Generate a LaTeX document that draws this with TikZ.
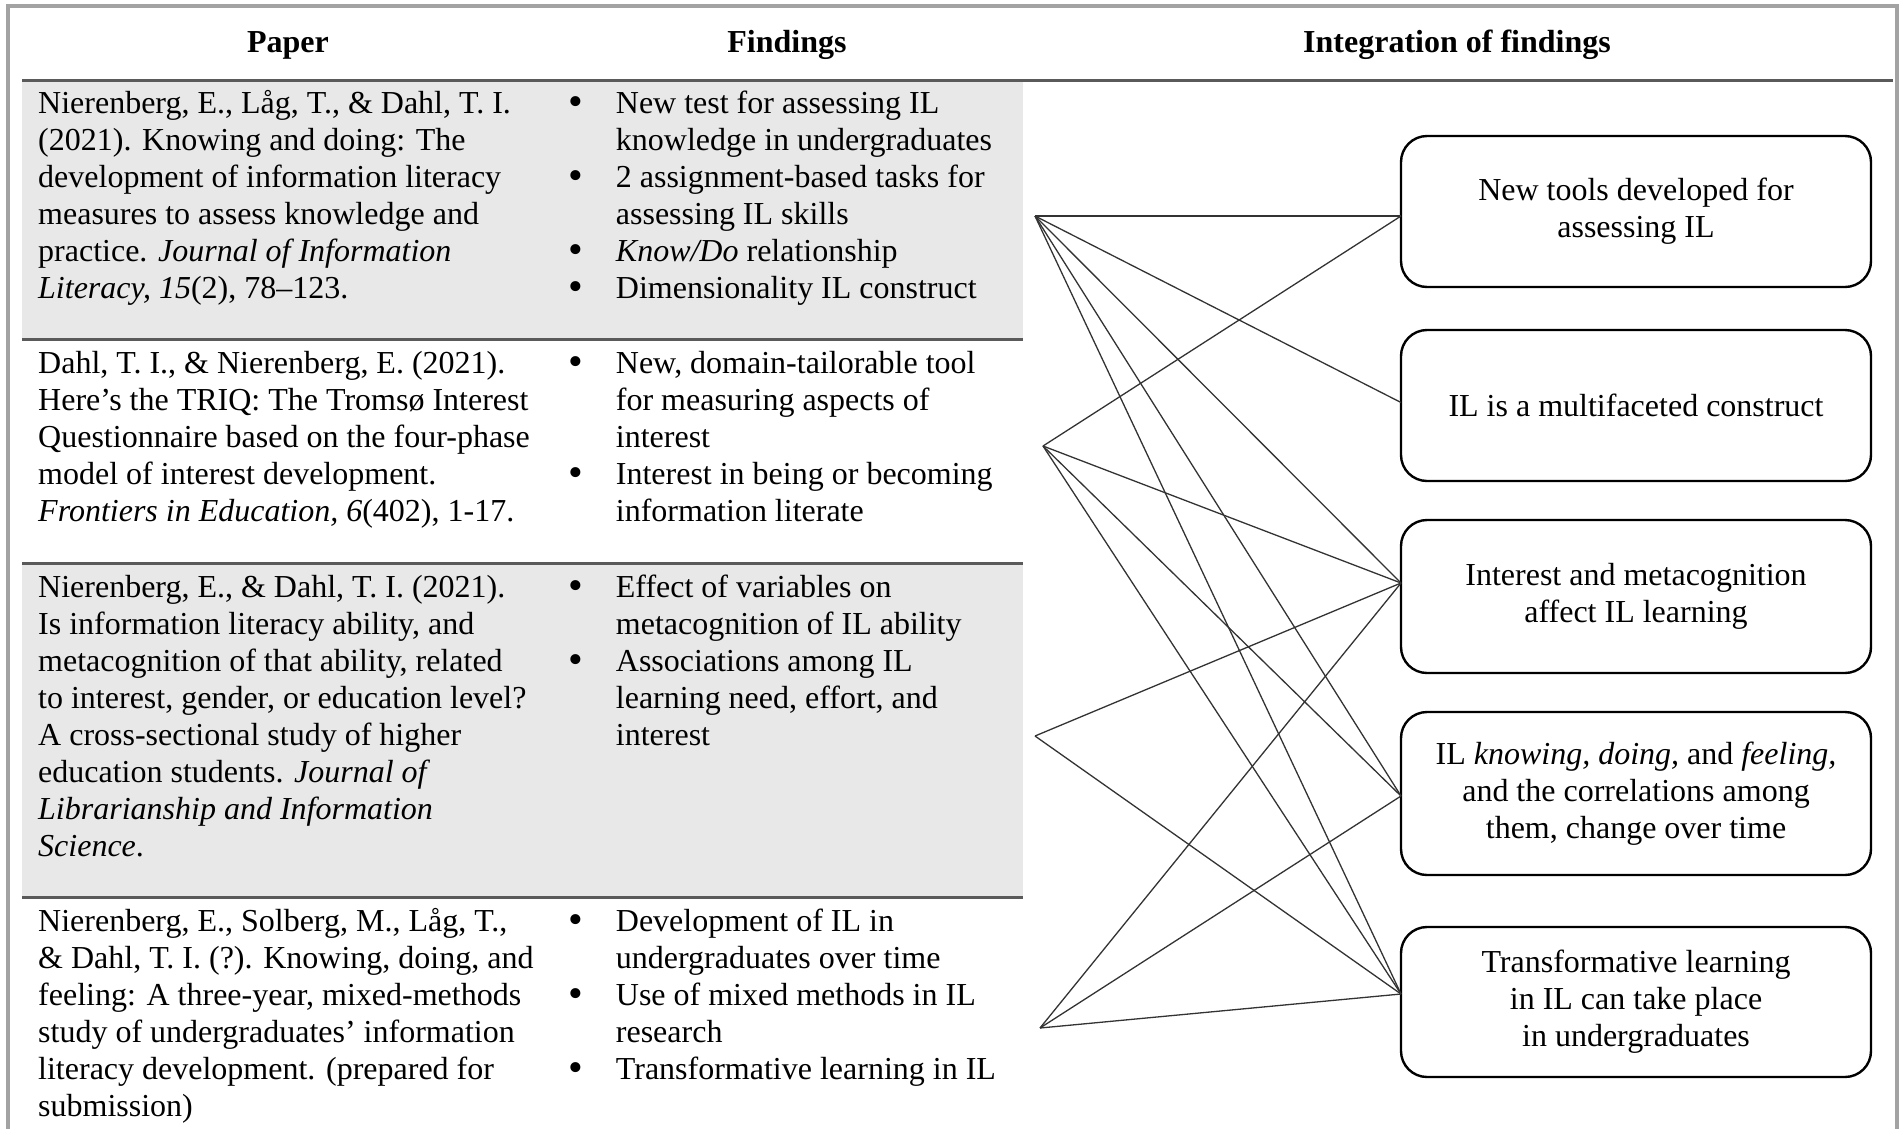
\documentclass[tikz,border=0pt]{standalone}
\usepackage{fontspec}
\setmainfont{Liberation Serif}
\usetikzlibrary{positioning}
\definecolor{rowgray}{HTML}{E8E8E8}
\definecolor{rulegray}{HTML}{5A5A5A}
\definecolor{framegray}{HTML}{A3A3A3}
\definecolor{linkgray}{HTML}{333333}
\newcommand{\bul}{\raisebox{-2pt}[0pt][0pt]{\fontsize{42}{37}\selectfont\textbullet}}
\begin{document}
\begin{tikzpicture}[x=1pt,y=-1pt,
  every node/.style={font=\fontsize{32}{37}\selectfont,inner sep=0pt},
  head/.style={font=\fontsize{32}{37}\selectfont\bfseries,anchor=base},
  cell/.style={anchor=base west},
  result/.style={draw,line width=2.4pt,outer sep=0pt,rounded corners=26pt,minimum width=470pt,minimum height=151pt,align=center},
  link/.style={linkgray,line width=1.3pt},
  rule/.style={rulegray,line width=3pt}]
\useasboundingbox (0,0) rectangle (1903,1128);

% table background and rules
\fill[rowgray] (22,80) rectangle (1023,339);
\fill[rowgray] (22,563) rectangle (1023,897);
\draw[rule] (22,80) -- (1893,80);
\draw[rule] (22,339) -- (1023,339);
\draw[rule] (22,563) -- (1023,563);
\draw[rule] (22,897) -- (1023,897);
\draw[framegray,line width=4pt] (8,1140) -- (8,6) -- (1897,6) -- (1897,1140);

\node[head] (paper)       at (288,52)  {Paper};
\node[head] (findings)    at (787,52)  {Findings};
\node[head] (integration) at (1457,52) {Integration of findings};

% papers
\node[cell] (paper1) at (38,113) {\begin{tabular}[t]{@{}l@{}}
  Nierenberg, E., Låg, T., \& Dahl, T. I.\\
  (2021). Knowing and doing: The\\
  development of information literacy\\
  measures to assess knowledge and\\
  practice. \textit{Journal of Information}\\
  \textit{Literacy, 15}(2), 78–123.\end{tabular}};
\node[cell] (paper2) at (38,373) {\begin{tabular}[t]{@{}l@{}}
  Dahl, T. I., \& Nierenberg, E. (2021).\\
  Here’s the TRIQ: The Tromsø Interest\\
  Questionnaire based on the four-phase\\
  model of interest development.\\
  \textit{Frontiers in Education, 6}(402), 1-17.\end{tabular}};
\node[cell] (paper3) at (38,597) {\begin{tabular}[t]{@{}l@{}}
  Nierenberg, E., \& Dahl, T. I. (2021).\\
  Is information literacy ability, and\\
  metacognition of that ability, related\\
  to interest, gender, or education level?\\
  A cross-sectional study of higher\\
  education students. \textit{Journal of}\\
  \textit{Librarianship and Information}\\
  \textit{Science}.\end{tabular}};
\node[cell] (paper4) at (38,931) {\begin{tabular}[t]{@{}l@{}}
  Nierenberg, E., Solberg, M., Låg, T.,\\
  \& Dahl, T. I. (?). Knowing, doing, and\\
  feeling: A three-year, mixed-methods\\
  study of undergraduates’ information\\
  literacy development. (prepared for\\
  submission)\end{tabular}};

% findings
\node[cell] (find1) at (568,113) {\begin{tabular}[t]{@{}l@{\hspace{33pt}}l@{}}
  \bul & New test for assessing IL\\
       & knowledge in undergraduates\\
  \bul & 2 assignment-based tasks for\\
       & assessing IL skills\\
  \bul & \textit{Know/Do} relationship\\
  \bul & Dimensionality IL construct\end{tabular}};
\node[cell] (find2) at (568,373) {\begin{tabular}[t]{@{}l@{\hspace{33pt}}l@{}}
  \bul & New, domain-tailorable tool\\
       & for measuring aspects of\\
       & interest\\
  \bul & Interest in being or becoming\\
       & information literate\end{tabular}};
\node[cell] (find3) at (568,597) {\begin{tabular}[t]{@{}l@{\hspace{33pt}}l@{}}
  \bul & Effect of variables on\\
       & metacognition of IL ability\\
  \bul & Associations among IL\\
       & learning need, effort, and\\
       & interest\end{tabular}};
\node[cell] (find4) at (568,931) {\begin{tabular}[t]{@{}l@{\hspace{33pt}}l@{}}
  \bul & Development of IL in\\
       & undergraduates over time\\
  \bul & Use of mixed methods in IL\\
       & research\\
  \bul & Transformative learning in IL\end{tabular}};

% integration
\node[result] (tools) at (1636,211.5) {New tools developed for\\assessing IL};
\node[result,below=43pt of tools] (facets) {IL is a multifaceted construct};
\node[result,below=39pt of facets,minimum height=153pt] (interest) {Interest and metacognition\\affect IL learning};
\node[result,below=39pt of interest,minimum height=163pt] (change) {IL \textit{knowing, doing,} and \textit{feeling,}\\and the correlations among\\them, change over time};
\node[result,below=52pt of change,minimum height=150pt] (transform) {Transformative learning\\in IL can take place\\in undergraduates};

\coordinate (src1) at (1035,216);
\coordinate (src2) at (1043,446);
\coordinate (src3) at (1035,736);
\coordinate (src4) at (1040,1028);
\coordinate (to1) at ([yshift=-4.5pt]tools.west);
\coordinate (to2) at ([yshift=3pt]facets.west);
\coordinate (to3) at ([yshift=13.5pt]interest.west);
\coordinate (to4) at ([yshift=-2.5pt]change.west);
\coordinate (to5) at ([yshift=8pt]transform.west);

\path[link]
  (src1) edge (to1) edge (to2) edge (to3) edge (to4) edge (to5)
  (src2) edge (to1) edge (to3) edge (to4) edge (to5)
  (src3) edge (to3) edge (to5)
  (src4) edge (to3) edge (to4) edge (to5);
\end{tikzpicture}
\end{document}
